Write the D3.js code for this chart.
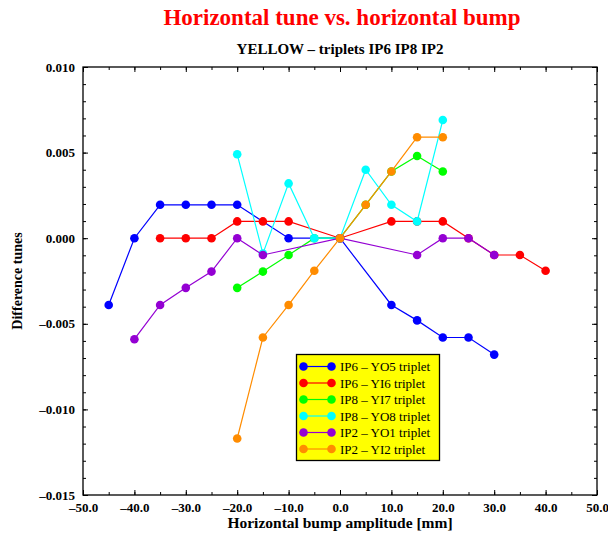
<!DOCTYPE html>
<html>
<head>
<meta charset="utf-8">
<script src="https://cdn.jsdelivr.net/npm/d3@7"></script>
<style>
  body { margin: 0; background: #fff; }
  svg { font-family: "Liberation Serif", "DejaVu Serif", serif; }
</style>
</head>
<body>
<svg id="chart" width="608" height="534"></svg>
<script>
// data
const seriesNames = ["IP6 \u2013 YO5 triplet", "IP6 \u2013 YI6 triplet", "IP8 \u2013 YI7 triplet",
  "IP8 \u2013 YO8 triplet", "IP2 \u2013 YO1 triplet", "IP2 \u2013 YI2 triplet"];
const seriesColors = ["#0000ff", "#ff0000", "#00ff00", "#00ffff", "#9400d3", "#ff8c00"];

const yo5Bump = [-45, -40, -35, -30, -25, -20, -10, 0, 10, 15, 20, 25, 30];
const yo5Tune = [-0.0039, 0, 0.00195, 0.00195, 0.00195, 0.00195, 0, 0, -0.0039, -0.0048, -0.0058, -0.0058, -0.0068];

const yi6Bump = [-35, -30, -25, -20, -15, -10, 0, 10, 15, 20, 25, 30, 35, 40];
const yi6Tune = [0, 0, 0, 0.00098, 0.00098, 0.00098, 0, 0.00098, 0.00098, 0.00098, 0, -0.00098, -0.00098, -0.0019];

const yi7Bump = [-20, -15, -10, -5, 0, 5, 10, 15, 20];
const yi7Tune = [-0.0029, -0.00195, -0.00098, 0, 0, 0.00195, 0.0039, 0.0048, 0.0039];

const yo8Bump = [-20, -15, -10, -5, 0, 5, 10, 15, 20];
const yo8Tune = [0.0049, -0.0009, 0.0032, 0, 0, 0.004, 0.00195, 0.00098, 0.0069];

const yo1Bump = [-40, -35, -30, -25, -20, -15, 0, 15, 20, 25, 30];
const yo1Tune = [-0.0059, -0.0039, -0.0029, -0.00195, 0, -0.00098, 0, -0.00098, 0, 0, -0.00098];

const yi2Bump = [-20, -15, -10, -5, 0, 5, 10, 15, 20];
const yi2Tune = [-0.0117, -0.0058, -0.0039, -0.0019, 0, 0.00195, 0.0039, 0.0059, 0.0059];

const bumps = [yo5Bump, yi6Bump, yi7Bump, yo8Bump, yo1Bump, yi2Bump];
const tunes = [yo5Tune, yi6Tune, yi7Tune, yo8Tune, yo1Tune, yi2Tune];

const xTicks = [-50, -40, -30, -20, -10, 0, 10, 20, 30, 40, 50];
const yTicks = [-0.015, -0.010, -0.005, 0, 0.005, 0.010];

const svg = d3.select("#chart");
const m = { left: 83, right: 597, top: 67, bottom: 495 };

const x = d3.scaleLinear().domain([-50, 50]).range([m.left, m.right]);
const y = d3.scaleLinear().domain([-0.015, 0.010]).range([m.bottom, m.top]);

// the reference uses a long dash for negative labels
const dash = (s) => s.replace(/^[-\u2212]/, "\u2013");

// titles
svg.append("text").attr("x", 342).attr("y", 25).attr("text-anchor", "middle")
  .attr("fill", "#ff0000").attr("font-weight", "bold").attr("font-size", 23)
  .text("Horizontal tune vs. horizontal bump");
svg.append("text").attr("x", 340).attr("y", 54).attr("text-anchor", "middle")
  .attr("font-weight", "bold").attr("font-size", 15)
  .text("YELLOW \u2013 triplets IP6 IP8 IP2");

// axes, ticks point inward
const xMinor = d3.range(-50, 51, 5);
const yMinor = d3.range(-15, 11, 1).map(d => d / 1000);

function axisStyle(g) {
  g.select(".domain").remove();
  g.selectAll(".tick line").attr("stroke", "#000");
  g.selectAll("text").attr("font-family", "Liberation Serif").attr("font-weight", "bold")
    .attr("font-size", 13).attr("fill", "#000");
}

svg.append("g").attr("transform", `translate(0,${m.bottom})`)
  .call(d3.axisBottom(x).tickValues(xMinor).tickSize(-3).tickFormat(""))
  .call(axisStyle);
svg.append("g").attr("transform", `translate(0,${m.bottom})`)
  .call(d3.axisBottom(x).tickValues(xTicks).tickSize(-5).tickPadding(8).tickFormat(d => dash(d3.format(".1f")(d))))
  .call(axisStyle);
svg.append("g").attr("transform", `translate(0,${m.top})`)
  .call(d3.axisTop(x).tickValues(xMinor).tickSize(-3).tickFormat(""))
  .call(axisStyle);
svg.append("g").attr("transform", `translate(0,${m.top})`)
  .call(d3.axisTop(x).tickValues(xTicks).tickSize(-5).tickFormat(""))
  .call(axisStyle);

svg.append("g").attr("transform", `translate(${m.left},0)`)
  .call(d3.axisLeft(y).tickValues(yMinor).tickSize(-3).tickFormat(""))
  .call(axisStyle);
svg.append("g").attr("transform", `translate(${m.left},0)`)
  .call(d3.axisLeft(y).tickValues(yTicks).tickSize(-5).tickPadding(8).tickFormat(d => dash(d3.format(".3f")(d))))
  .call(axisStyle);
svg.append("g").attr("transform", `translate(${m.right},0)`)
  .call(d3.axisRight(y).tickValues(yMinor).tickSize(-3).tickFormat(""))
  .call(axisStyle);
svg.append("g").attr("transform", `translate(${m.right},0)`)
  .call(d3.axisRight(y).tickValues(yTicks).tickSize(-5).tickFormat(""))
  .call(axisStyle);

svg.append("rect").attr("x", m.left).attr("y", m.top)
  .attr("width", m.right - m.left).attr("height", m.bottom - m.top)
  .attr("fill", "none").attr("stroke", "#000").attr("stroke-width", 1.3);

// axis titles
svg.append("text").attr("x", 340).attr("y", 528).attr("text-anchor", "middle")
  .attr("font-weight", "bold").attr("font-size", 15.5)
  .text("Horizontal bump amplitude [mm]");
svg.append("text").attr("transform", "translate(21.5,281) rotate(-90)").attr("text-anchor", "middle")
  .attr("font-weight", "bold").attr("font-size", 14)
  .text("Difference tunes");

// series
const line = d3.line().x(d => x(d[0])).y(d => y(d[1]));
bumps.forEach((b, i) => {
  const pts = b.map((v, j) => [v, tunes[i][j]]);
  const g = svg.append("g");
  g.append("path").datum(pts).attr("d", line)
    .attr("fill", "none").attr("stroke", seriesColors[i]).attr("stroke-width", 1.2);
  g.selectAll("circle").data(pts).enter().append("circle")
    .attr("cx", d => x(d[0])).attr("cy", d => y(d[1])).attr("r", 4.3)
    .attr("fill", seriesColors[i]);
});

// legend
const lg = svg.append("g");
lg.append("rect").attr("x", 296.5).attr("y", 354.5).attr("width", 143).attr("height", 106)
  .attr("fill", "#ffff00").attr("stroke", "#000").attr("stroke-width", 1.3);
seriesNames.forEach((name, i) => {
  const yy = 366.5 + i * 16.5;
  lg.append("line").attr("x1", 303.5).attr("x2", 331.5).attr("y1", yy).attr("y2", yy)
    .attr("stroke", seriesColors[i]).attr("stroke-width", 1.2);
  lg.selectAll(null).data([303.5, 331.5]).enter().append("circle")
    .attr("cx", d => d).attr("cy", yy).attr("r", 4.3).attr("fill", seriesColors[i]);
  lg.append("text").attr("x", 340).attr("y", yy + 4.5).attr("font-size", 13).text(name);
});
</script>
</body>
</html>
